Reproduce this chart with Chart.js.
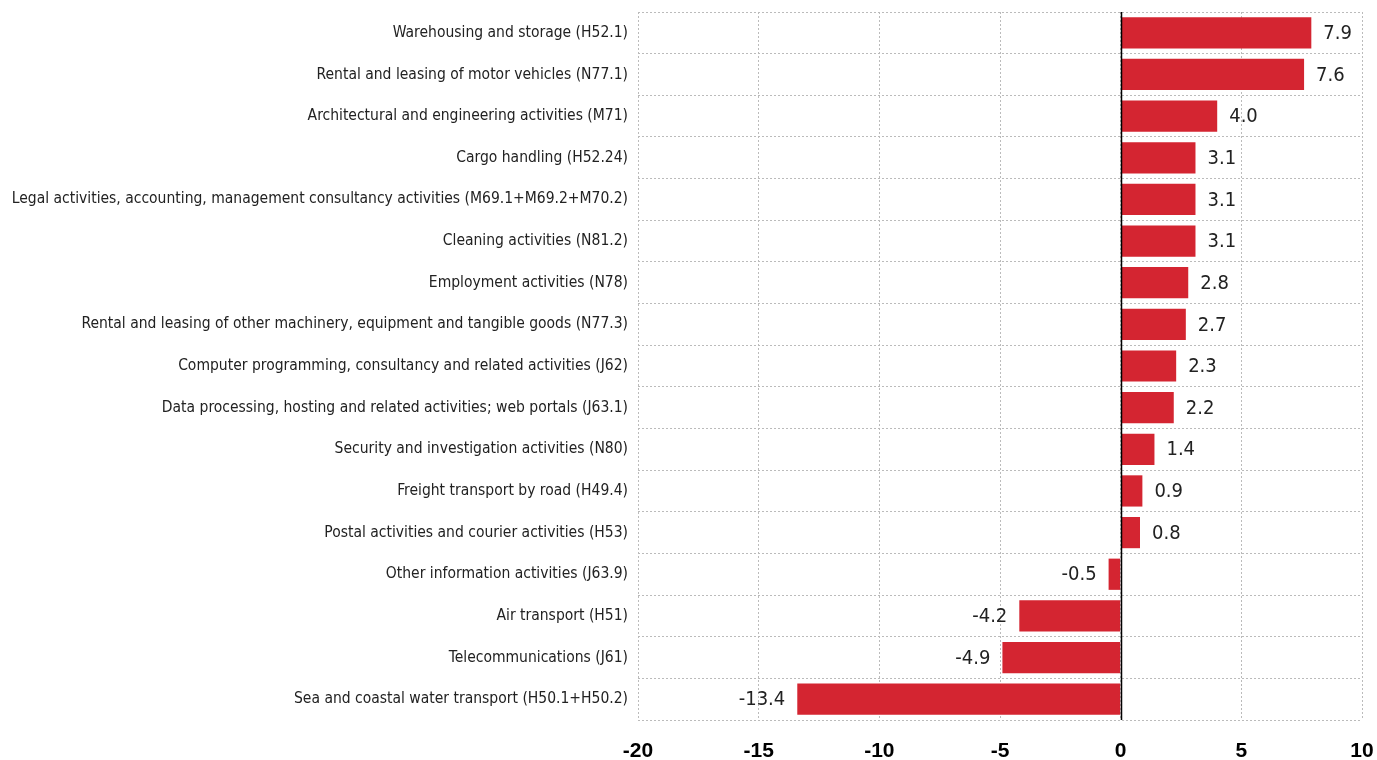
<!DOCTYPE html>
<html>
<head>
<meta charset="utf-8">
<script src="https://cdn.jsdelivr.net/npm/chart.js@4/dist/chart.umd.min.js"></script>
<style>
  html, body { margin: 0; padding: 0; background: #fff; }
  #wrap { width: 1377px; height: 760px; }
</style>
</head>
<body>
<div id="wrap"><canvas id="chart" width="1377" height="760"></canvas></div>
<script>
const categories = [
  'Warehousing and storage (H52.1)',
  'Rental and leasing of motor vehicles (N77.1)',
  'Architectural and engineering activities (M71)',
  'Cargo handling (H52.24)',
  'Legal activities, accounting, management consultancy activities (M69.1+M69.2+M70.2)',
  'Cleaning activities (N81.2)',
  'Employment activities (N78)',
  'Rental and leasing of other machinery, equipment and tangible goods (N77.3)',
  'Computer programming, consultancy and related activities (J62)',
  'Data processing, hosting and related activities; web portals (J63.1)',
  'Security and investigation activities (N80)',
  'Freight transport by road (H49.4)',
  'Postal activities and courier activities (H53)',
  'Other information activities (J63.9)',
  'Air transport (H51)',
  'Telecommunications (J61)',
  'Sea and coastal water transport (H50.1+H50.2)'
];
const values = [7.9, 7.6, 4.0, 3.1, 3.1, 3.1, 2.8, 2.7, 2.3, 2.2, 1.4, 0.9, 0.8, -0.5, -4.2, -4.9, -13.4];
const xMin = -20;
const xMax = 10;
const xStep = 5;

const FONT = "'Liberation Sans Narrow', 'Arial Narrow', 'DejaVu Sans Condensed', sans-serif";

// value labels next to the bars + solid zero line
const barLabels = {
  id: 'barLabels',
  afterDatasetsDraw(chart) {
    const ctx = chart.ctx;
    const meta = chart.getDatasetMeta(0);
    const xs = chart.scales.x;
    ctx.save();
    ctx.font = '20px ' + FONT;
    ctx.fillStyle = '#222';
    ctx.textBaseline = 'middle';
    meta.data.forEach((bar, i) => {
      const v = values[i];
      if (v >= 0) {
        ctx.textAlign = 'left';
        ctx.fillText(v.toFixed(1), bar.x + 12, bar.y + 1);
      } else {
        ctx.textAlign = 'right';
        ctx.fillText(v.toFixed(1), bar.x - 12, bar.y + 1);
      }
    });
    const x0 = Math.round(xs.getPixelForValue(0)) + 0.5;
    ctx.strokeStyle = '#000';
    ctx.lineWidth = 1.5;
    ctx.beginPath();
    ctx.moveTo(x0, chart.chartArea.top);
    ctx.lineTo(x0, chart.chartArea.bottom);
    ctx.stroke();
    ctx.restore();
  }
};

new Chart(document.getElementById('chart').getContext('2d'), {
  type: 'bar',
  data: {
    labels: categories,
    datasets: [{
      data: values,
      backgroundColor: '#d42531',
      borderWidth: 0,
      barPercentage: 0.75,
      categoryPercentage: 1
    }]
  },
  options: {
    indexAxis: 'y',
    responsive: false,
    animation: false,
    layout: { padding: { top: 12, right: 0, left: 0, bottom: 0 } },
    plugins: {
      legend: { display: false },
      tooltip: { enabled: false }
    },
    scales: {
      x: {
        min: xMin,
        max: xMax,
        afterFit(scale) {
          scale.height = 40;
          scale.paddingRight = 15;
          scale.paddingLeft = 0;
        },
        ticks: {
          stepSize: xStep,
          color: '#000',
          padding: 19,
          maxRotation: 0,
          font: { family: '"Liberation Sans", Arial, sans-serif', size: 21, weight: 'bold' }
        },
        grid: { color: '#bbb', drawTicks: false },
        border: { display: false, dash: [2, 2] }
      },
      y: {
        afterFit(scale) {
          scale.width = 638;
          scale.paddingTop = 0;
          scale.paddingBottom = 0;
        },
        ticks: {
          color: '#222',
          padding: 10,
          font: { family: FONT, size: 15.5 }
        },
        grid: { color: '#bbb', drawTicks: false, offset: true },
        border: { display: false, dash: [2, 2] }
      }
    }
  },
  plugins: [barLabels]
});
</script>
</body>
</html>
